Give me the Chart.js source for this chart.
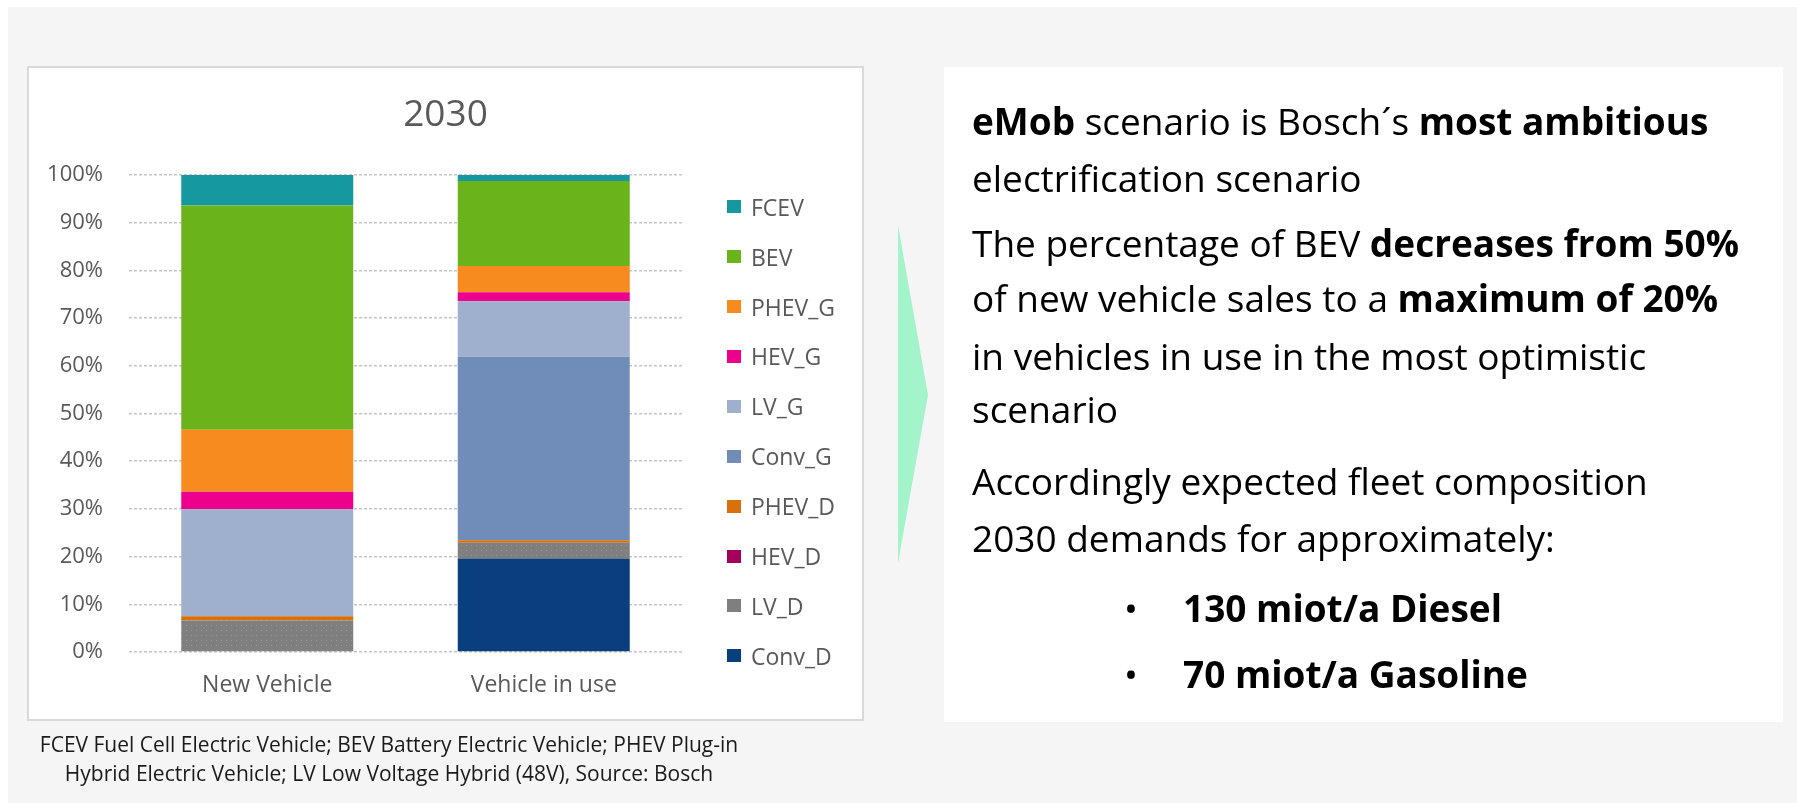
<!DOCTYPE html>
<html>
<head>
<meta charset="utf-8">
<script src="https://cdn.jsdelivr.net/npm/chart.js@4.4.1/dist/chart.umd.min.js"></script>
<style>
  body { margin: 0; width: 1797px; height: 807px; background: #fff; position: relative; overflow: hidden; font-family: 'Open Sans', sans-serif; }
  .abs { position: absolute; }
  #bg { left: 8px; top: 7px; right: 0; bottom: 4px; background: #f5f5f5; }
  #card { left: 27px; top: 66px; width: 837px; height: 655px; box-sizing: border-box; border: 2px solid #d9d9d9; background: #fff; }
  #chart { left: 29px; top: 68px; }
  #legend .item { position: absolute; left: 727px; height: 30px; display: flex; align-items: center; font-size: 23px; color: #595959; white-space: nowrap; }
  #legend .box { width: 14px; height: 13px; margin-right: 10px; }
  #textbox { left: 944px; top: 67px; width: 839px; height: 655px; background: #fff; }
  .line { position: absolute; left: 972px; font-size: 37px; line-height: 1; color: #000; white-space: nowrap; }
  .note { position: absolute; left: 0; width: 778px; text-align: center; font-size: 21px; line-height: 1; color: #1a1a1a; white-space: nowrap; }
</style>
</head>
<body>
<div id="bg" class="abs"></div>
<div id="card" class="abs"></div>
<canvas id="chart" class="abs" width="833" height="651"></canvas>
<div id="legend"></div>

<svg class="abs" style="left:0;top:0" width="1797" height="807">
  <polygon points="898,225 928,395 898,563" fill="#a3f3cb"/>
</svg>

<div id="textbox" class="abs"></div>
<div class="line" style="top:102px"><b>eMob</b> scenario is Bosch´s <b>most ambitious</b></div>
<div class="line" style="top:159px">electrification scenario</div>
<div class="line" style="top:224px">The percentage of BEV <b>decreases from 50%</b></div>
<div class="line" style="top:279px">of new vehicle sales to a <b>maximum of 20%</b></div>
<div class="line" style="top:337px">in vehicles in use in the most optimistic</div>
<div class="line" style="top:390px">scenario</div>
<div class="line" style="top:462px">Accordingly expected fleet composition</div>
<div class="line" style="top:519px">2030 demands for approximately:</div>
<div class="line" style="top:589px;left:1124px">•</div>
<div class="line" style="top:589px;left:1183px"><b>130 miot/a Diesel</b></div>
<div class="line" style="top:655px;left:1124px">•</div>
<div class="line" style="top:655px;left:1183px"><b>70 miot/a Gasoline</b></div>

<div class="note" style="top:734px">FCEV Fuel Cell Electric Vehicle; BEV Battery Electric Vehicle; PHEV Plug-in</div>
<div class="note" style="top:763px">Hybrid Electric Vehicle; LV Low Voltage Hybrid (48V), Source: Bosch</div>

<script>
// data (stacked bottom -> top), shares in %
const categories = ['New Vehicle', 'Vehicle in use'];
const seriesNames = ['Conv_D', 'LV_D', 'HEV_D', 'PHEV_D', 'Conv_G', 'LV_G', 'HEV_G', 'PHEV_G', 'BEV', 'FCEV'];
const convD = [0, 19.6];
const lvD = [6.6, 3.3];
const hevD = [0, 0];
const phevD = [0.9, 0.5];
const convG = [0, 38.5];
const lvG = [22.4, 11.6];
const hevG = [3.7, 1.9];
const phevG = [13.0, 5.5];
const bev = [47.0, 17.8];
const fcev = [6.4, 1.3];
const yTicks = [0, 10, 20, 30, 40, 50, 60, 70, 80, 90, 100];

const seriesValues = [convD, lvD, hevD, phevD, convG, lvG, hevG, phevG, bev, fcev];
const seriesColors = ['#083f7c', '#7f7f7f', '#a5005e', '#d8700c', '#6f8db8', '#9eb0ce', '#ec008c', '#f88b1f', '#6ab31a', '#15989f'];

// dotted grey fill for LV_D
const dotted = (() => {
    const c = document.createElement('canvas');
    c.width = 5; c.height = 5;
    const g = c.getContext('2d');
    g.fillStyle = '#7f7f7f';
    g.fillRect(0, 0, 5, 5);
    g.fillStyle = '#959595';
    g.fillRect(2, 2, 1, 1);
    return g.createPattern(c, 'repeat');
})();

const datasets = seriesNames.map((name, i) => ({
    label: name,
    data: seriesValues[i],
    backgroundColor: name === 'LV_D' ? dotted : seriesColors[i],
    borderWidth: 0,
    categoryPercentage: 1,
    barPercentage: 0.622
}));

new Chart(document.getElementById('chart'), {
    type: 'bar',
    data: { labels: categories, datasets: datasets },
    options: {
        responsive: false,
        animation: false,
        plugins: {
            legend: { display: false },
            tooltip: { enabled: false },
            title: {
                display: true,
                text: '2030',
                color: '#595959',
                font: { family: 'Open Sans', size: 37, weight: 'normal', lineHeight: 1.2 },
                padding: { top: 25, bottom: 37.5 }
            }
        },
        scales: {
            x: {
                stacked: true,
                grid: { display: false },
                border: { display: false },
                ticks: { color: '#595959', font: { family: 'Open Sans', size: 23 }, padding: 12 },
                afterFit: (s) => { s.height = 67; }
            },
            y: {
                stacked: true,
                min: 0,
                max: 100,
                afterBuildTicks: (s) => { s.ticks = yTicks.map(v => ({ value: v })); },
                grid: { color: '#c6c6c6', lineWidth: 1.5, drawTicks: false },
                border: { display: false, dash: [3, 2] },
                ticks: { color: '#595959', font: { family: 'Open Sans', size: 22 }, padding: 26, callback: v => v + '%' },
                afterFit: (s) => { s.width = 100; }
            },
            // empty right-hand space where the legend sits
            side: {
                position: 'right',
                grid: { display: false },
                border: { display: false },
                ticks: { display: false },
                afterFit: (s) => { s.width = 180; }
            }
        }
    }
});

// legend, top -> bottom
const legend = document.getElementById('legend');
seriesNames.slice().reverse().forEach((name, i) => {
    const idx = seriesNames.indexOf(name);
    const item = document.createElement('div');
    item.className = 'item';
    item.style.top = (206.7 + i * 49.9 - 15) + 'px';
    item.innerHTML = `<span class="box" style="background:${seriesColors[idx]}"></span>${name}`;
    legend.appendChild(item);
});
</script>
</body>
</html>
